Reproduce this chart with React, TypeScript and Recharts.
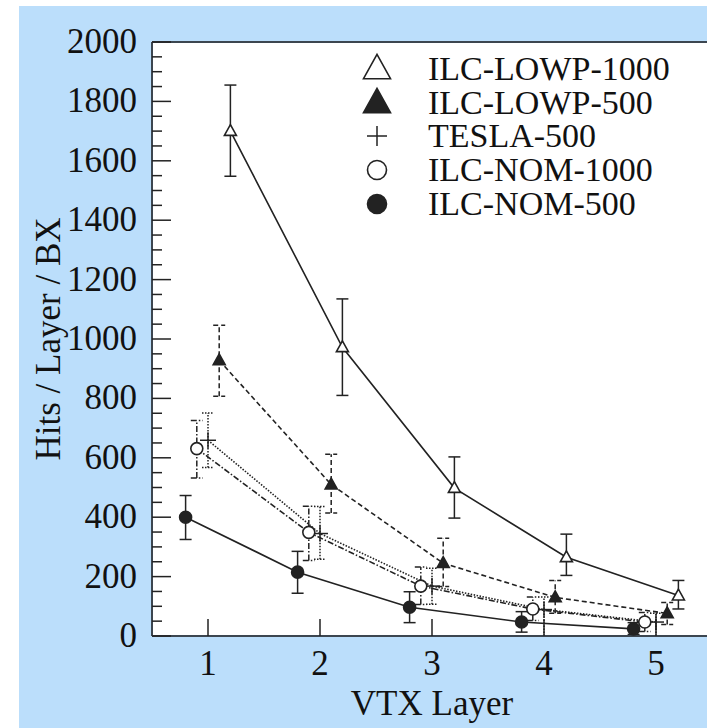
import React from 'react'
import {
  ScatterChart,
  Scatter,
  XAxis,
  YAxis,
  ErrorBar,
  CartesianGrid,
  ReferenceLine,
  Legend,
  Label,
} from 'recharts'

// VTX layer positions (each dataset shifted a bit so the points do not overlap)
const layerTicks = [1, 2, 3, 4, 5]
const yTicks = [
  0, 50, 100, 150, 200, 250, 300, 350, 400, 450, 500, 550, 600, 650, 700, 750, 800, 850, 900, 950,
  1000, 1050, 1100, 1150, 1200, 1250, 1300, 1350, 1400, 1450, 1500, 1550, 1600, 1650, 1700, 1750,
  1800, 1850, 1900, 1950, 2000,
]

const lowp1000X = [1.2, 2.2, 3.2, 4.2, 5.2]
const lowp1000 = [1700, 972, 498, 265, 136]
const lowp1000Hi = [1855, 1135, 603, 343, 187]
const lowp1000Lo = [1548, 810, 397, 204, 91]

const lowp500X = [1.1, 2.1, 3.1, 4.1, 5.1]
const lowp500 = [928, 510, 245, 130, 76]
const lowp500Hi = [1046, 612, 329, 187, 113]
const lowp500Lo = [807, 414, 167, 77, 39]

const tesla500X = [1.0, 2.0, 3.0, 4.0, 5.0]
const tesla500 = [659, 345, 168, 89, 47]
const tesla500Hi = [751, 436, 228, 131, 77]
const tesla500Lo = [567, 258, 107, 0, 0]

const nom1000X = [0.9, 1.9, 2.9, 3.9, 4.9]
const nom1000 = [631, 349, 168, 91, 47]
const nom1000Hi = [726, 437, 232, 131, 79]
const nom1000Lo = [532, 254, 106, 52, 15]

const nom500X = [0.8, 1.8, 2.8, 3.8, 4.8]
const nom500 = [400, 215, 97, 47, 24]
const nom500Hi = [473, 285, 149, 82, 45]
const nom500Lo = [325, 144, 45, 13, 5]

const INK = '#222'
const FONT =
  '"Liberation Serif", "Times New Roman", Times, Tinos, "Nimbus Roman", "DejaVu Serif", "Noto Serif", serif'

const rows = (xs: number[], ys: number[], hi: number[], lo: number[]) =>
  xs.map((x, i) => ({ x, y: ys[i], err: [ys[i] - lo[i], hi[i] - ys[i]] }))

type Marker = 'openTri' | 'fillTri' | 'plus' | 'openCircle' | 'fillCircle'

function drawMarker(kind: Marker, cx: number, cy: number, s: number) {
  if (kind === 'openTri' || kind === 'fillTri') {
    const h = s * 0.9
    const pts = `${cx},${cy - h * 0.6} ${cx - s / 2},${cy + h * 0.4} ${cx + s / 2},${cy + h * 0.4}`
    return (
      <polygon
        points={pts}
        fill={kind === 'fillTri' ? INK : '#fff'}
        stroke={INK}
        strokeWidth={1.6}
        strokeLinejoin="miter"
      />
    )
  }
  if (kind === 'plus') {
    const r = s / 2
    return (
      <g stroke={INK} strokeWidth={1.5}>
        <line x1={cx - r} x2={cx + r} y1={cy} y2={cy} />
        <line x1={cx} x2={cx} y1={cy - r} y2={cy + r} />
      </g>
    )
  }
  return (
    <circle
      cx={cx}
      cy={cy}
      r={s / 2}
      fill={kind === 'fillCircle' ? INK : '#fff'}
      stroke={INK}
      strokeWidth={1.6}
    />
  )
}

const series = [
  { name: 'ILC-LOWP-1000', data: rows(lowp1000X, lowp1000, lowp1000Hi, lowp1000Lo), marker: 'openTri' as Marker, size: 12, dash: undefined },
  { name: 'ILC-LOWP-500', data: rows(lowp500X, lowp500, lowp500Hi, lowp500Lo), marker: 'fillTri' as Marker, size: 12, dash: '5 3' },
  { name: 'TESLA-500', data: rows(tesla500X, tesla500, tesla500Hi, tesla500Lo), marker: 'plus' as Marker, size: 16, dash: '1.5 1.5' },
  { name: 'ILC-NOM-1000', data: rows(nom1000X, nom1000, nom1000Hi, nom1000Lo), marker: 'openCircle' as Marker, size: 12, dash: '6 2 1.5 2' },
  { name: 'ILC-NOM-500', data: rows(nom500X, nom500, nom500Hi, nom500Lo), marker: 'fillCircle' as Marker, size: 12, dash: undefined },
]

const legendSymbol: Record<Marker, number> = {
  openTri: 27,
  fillTri: 27,
  plus: 20,
  openCircle: 19,
  fillCircle: 19,
}

function YTick(props: any) {
  const { x, y, payload } = props
  const major = payload.value % 200 === 0
  return (
    <g>
      <line x1={x} x2={x + (major ? 19 : 10)} y1={y} y2={y} stroke={INK} strokeWidth={1.5} />
      {major && (
        <text x={x - 15} y={y} dy={11} textAnchor="end" fontSize={35} fontFamily={FONT} fill="#111">
          {payload.value}
        </text>
      )}
    </g>
  )
}

function XTick(props: any) {
  const { x, y, payload } = props
  return (
    <g>
      <line x1={x} x2={x} y1={y} y2={y - 17} stroke={INK} strokeWidth={1.5} />
      <text x={x} y={y + 39} textAnchor="middle" fontSize={35} fontFamily={FONT} fill="#111">
        {payload.value}
      </text>
    </g>
  )
}

function LegendBox() {
  return (
    <div style={{ fontFamily: FONT, fontSize: 34, color: '#111' }}>
      {series.map((s) => (
        <div key={s.name} style={{ display: 'flex', alignItems: 'center', height: 33.7 }}>
          <svg width={46} height={32} style={{ overflow: 'visible' }}>
            {drawMarker(s.marker, 23, 16, legendSymbol[s.marker])}
          </svg>
          <span style={{ marginLeft: 28, lineHeight: '30px', whiteSpace: 'nowrap' }}>{s.name}</span>
        </div>
      ))}
    </div>
  )
}

export default function App() {
  return (
    <div
      style={{
        position: 'absolute',
        left: 0,
        top: 0,
        width: 707,
        height: 728,
        overflow: 'hidden',
        background: '#fff',
      }}
    >
      <div
        style={{
          position: 'absolute',
          left: 19,
          top: 6,
          width: 700,
          height: 730,
          background: '#bbdefb',
        }}
      />
      <div style={{ position: 'absolute', left: 0, top: 0 }}>
        <ScatterChart width={720} height={728} margin={{ top: 42, right: 8, bottom: 0, left: 20 }}>
          <CartesianGrid fill="#fff" horizontal={false} vertical={false} />
          <XAxis
            dataKey="x"
            type="number"
            domain={[0.5, 5.5]}
            ticks={layerTicks}
            height={92}
            tickSize={0}
            tickMargin={0}
            tickLine={false}
            tick={<XTick />}
            axisLine={{ stroke: '#3c4650', strokeWidth: 2 }}
            allowDataOverflow
          >
            <Label
              content={(p: any) => {
                const vb = p.viewBox
                return (
                  <text x={vb.x + vb.width / 2} y={vb.y + 79} textAnchor="middle" fontSize={35} fontFamily={FONT} fill="#111">
                    VTX Layer
                  </text>
                )
              }}
            />
          </XAxis>
          <YAxis
            dataKey="y"
            type="number"
            domain={[0, 2000]}
            ticks={yTicks}
            interval={0}
            width={132}
            tickSize={0}
            tickMargin={0}
            tickLine={false}
            tick={<YTick />}
            axisLine={{ stroke: '#3c4650', strokeWidth: 2 }}
          >
            <Label
              content={(p: any) => {
                const vb = p.viewBox
                const cx = 48
                const cy = vb.y + vb.height / 2
                return (
                  <text
                    x={cx}
                    y={cy}
                    dy={12}
                    transform={`rotate(-90 ${cx} ${cy})`}
                    textAnchor="middle"
                    fontSize={35}
                    fontFamily={FONT}
                    fill="#111"
                  >
                    Hits / Layer / BX
                  </text>
                )
              }}
            />
          </YAxis>
          <ReferenceLine y={2000} stroke="#3c4650" strokeWidth={2} />
          <Legend
            layout="vertical"
            align="center"
            verticalAlign="middle"
            content={<LegendBox />}
            wrapperStyle={{ top: 52, left: 354, width: 360 }}
          />
          {series.map((s) => (
            <Scatter
              key={s.name}
              name={s.name}
              data={s.data}
              isAnimationActive={false}
              line={{ stroke: INK, strokeWidth: 1.6, strokeDasharray: s.dash }}
              lineType="joint"
              shape={(p: any) => drawMarker(s.marker, p.cx, p.cy, s.size)}
            >
              <ErrorBar
                dataKey="err"
                direction="y"
                width={6}
                stroke={INK}
                strokeWidth={1.5}
                strokeDasharray={s.dash}
                isAnimationActive={false}
              />
            </Scatter>
          ))}
        </ScatterChart>
      </div>
    </div>
  )
}
